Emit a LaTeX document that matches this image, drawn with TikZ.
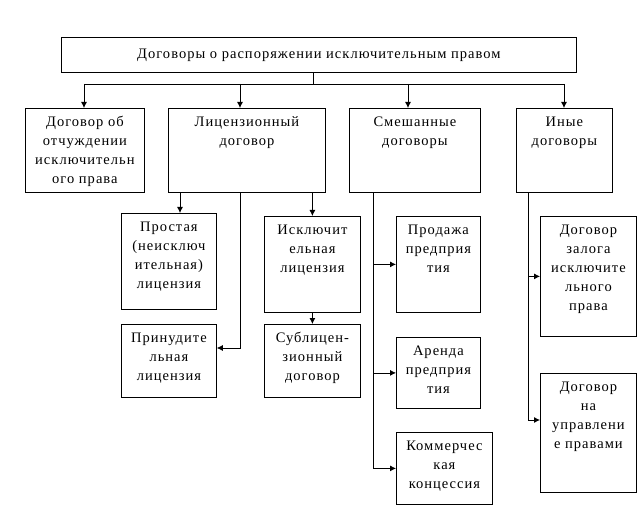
\documentclass[tikz,border=0pt]{standalone}
\usepackage{fontspec}
\setmainfont{Liberation Serif}[LetterSpace=7]
\usetikzlibrary{arrows.meta}

\newcommand{\Cell}[3]{\parbox[c][#2pt][t]{#1pt}{\centering\vspace*{5pt}\strut#3}}

\begin{document}
\begin{tikzpicture}[x=1pt,y=-1pt]
                \tikzset{cell/.style={draw, line width=0.8pt, inner sep=0pt, anchor=north west,
                                      font=\fontsize{14.5}{19}\selectfont}}
                \tikzset{link/.style={line width=0.8pt}}
                \tikzset{arr/.style={link, -{Latex[length=6pt,width=6pt]}}}
                \useasboundingbox (0,0) rectangle (637,529);
                % top level
                \node[cell] (top) at (61,37) {\parbox[c][35pt][c]{515pt}{\centering
                      Договоры о распоряжении исключительным правом}};
                \node[cell] (A) at (25,108)  {\Cell{119}{84}{Договор об\\отчуждении\\исключительн\\ого права}};
                \node[cell] (B) at (168,108) {\Cell{157}{84}{Лицензионный\\договор}};
                \node[cell] (C) at (349,108) {\Cell{131}{84}{Смешанные\\договоры}};
                \node[cell] (D) at (516,108) {\Cell{96}{84}{Иные\\договоры}};
                % licences
                \node[cell] (Simple) at (121,213) {\Cell{95}{96}{Простая\\(неисключ\\ительная)\\лицензия}};
                \node[cell] (Forced) at (121,324) {\Cell{95}{73}{Принудите\\льная\\лицензия}};
                \node[cell] (Excl)   at (264,216) {\Cell{96}{96}{Исключит\\ельная\\лицензия}};
                \node[cell] (Sub)    at (264,324) {\Cell{96}{73}{Сублицен-\\зионный\\договор}};
                % mixed
                \node[cell] (Sale)   at (396,216) {\Cell{84}{96}{Продажа\\предприя\\тия}};
                \node[cell] (Rent)   at (396,337) {\Cell{84}{71}{Аренда\\предприя\\тия}};
                \node[cell] (Conc)   at (396,432) {\Cell{96}{72}{Коммерчес\\кая\\концессия}};
                % other
                \node[cell] (Pledge) at (540,216) {\Cell{96}{120}{Договор\\залога\\исключите\\льного\\права}};
                \node[cell] (Manage) at (540,373) {\Cell{96}{119}{Договор\\на\\управлени\\е правами}};
                % bus
                \coordinate (tA) at (84,84);
                \coordinate (tB) at (240,84);
                \coordinate (tC) at (408,84);
                \coordinate (tD) at (564,84);
                \draw[link] (top.south -| 313,0) -- (313,84);
                \draw[link] (tA) -- (tD);
                \draw[arr] (tA) -- (tA |- A.north);
                \draw[arr] (tB) -- (tB |- B.north);
                \draw[arr] (tC) -- (tC |- C.north);
                \draw[arr] (tD) -- (tD |- D.north);
                % licence branch
                \coordinate (bF) at (240,348);
                \draw[arr] (B.south -| 180,0) -- (Simple.north -| 180,0);
                \draw[arr] (B.south -| 240,0) -- (bF) -- (bF -| Forced.east);
                \draw[arr] (B.south -| Excl.north) -- (Excl.north);
                \draw[arr] (Excl.south) -- (Sub.north);
                % mixed branch
                \coordinate (bC) at (373,468);
                \draw[link] (C.south -| bC) -- (bC);
                \draw[arr] (Sale.west -| bC) -- (Sale.west);
                \draw[arr] (Rent.west -| bC) -- (Rent.west);
                \draw[arr] (Conc.west -| bC) -- (Conc.west);
                % other branch
                \coordinate (bD) at (528,420);
                \draw[link] (D.south -| bD) -- (bD);
                \draw[arr] (Pledge.west -| bD) -- (Pledge.west);
                \draw[arr] (bD) -- (bD -| Manage.west);
\end{tikzpicture}
\end{document}
